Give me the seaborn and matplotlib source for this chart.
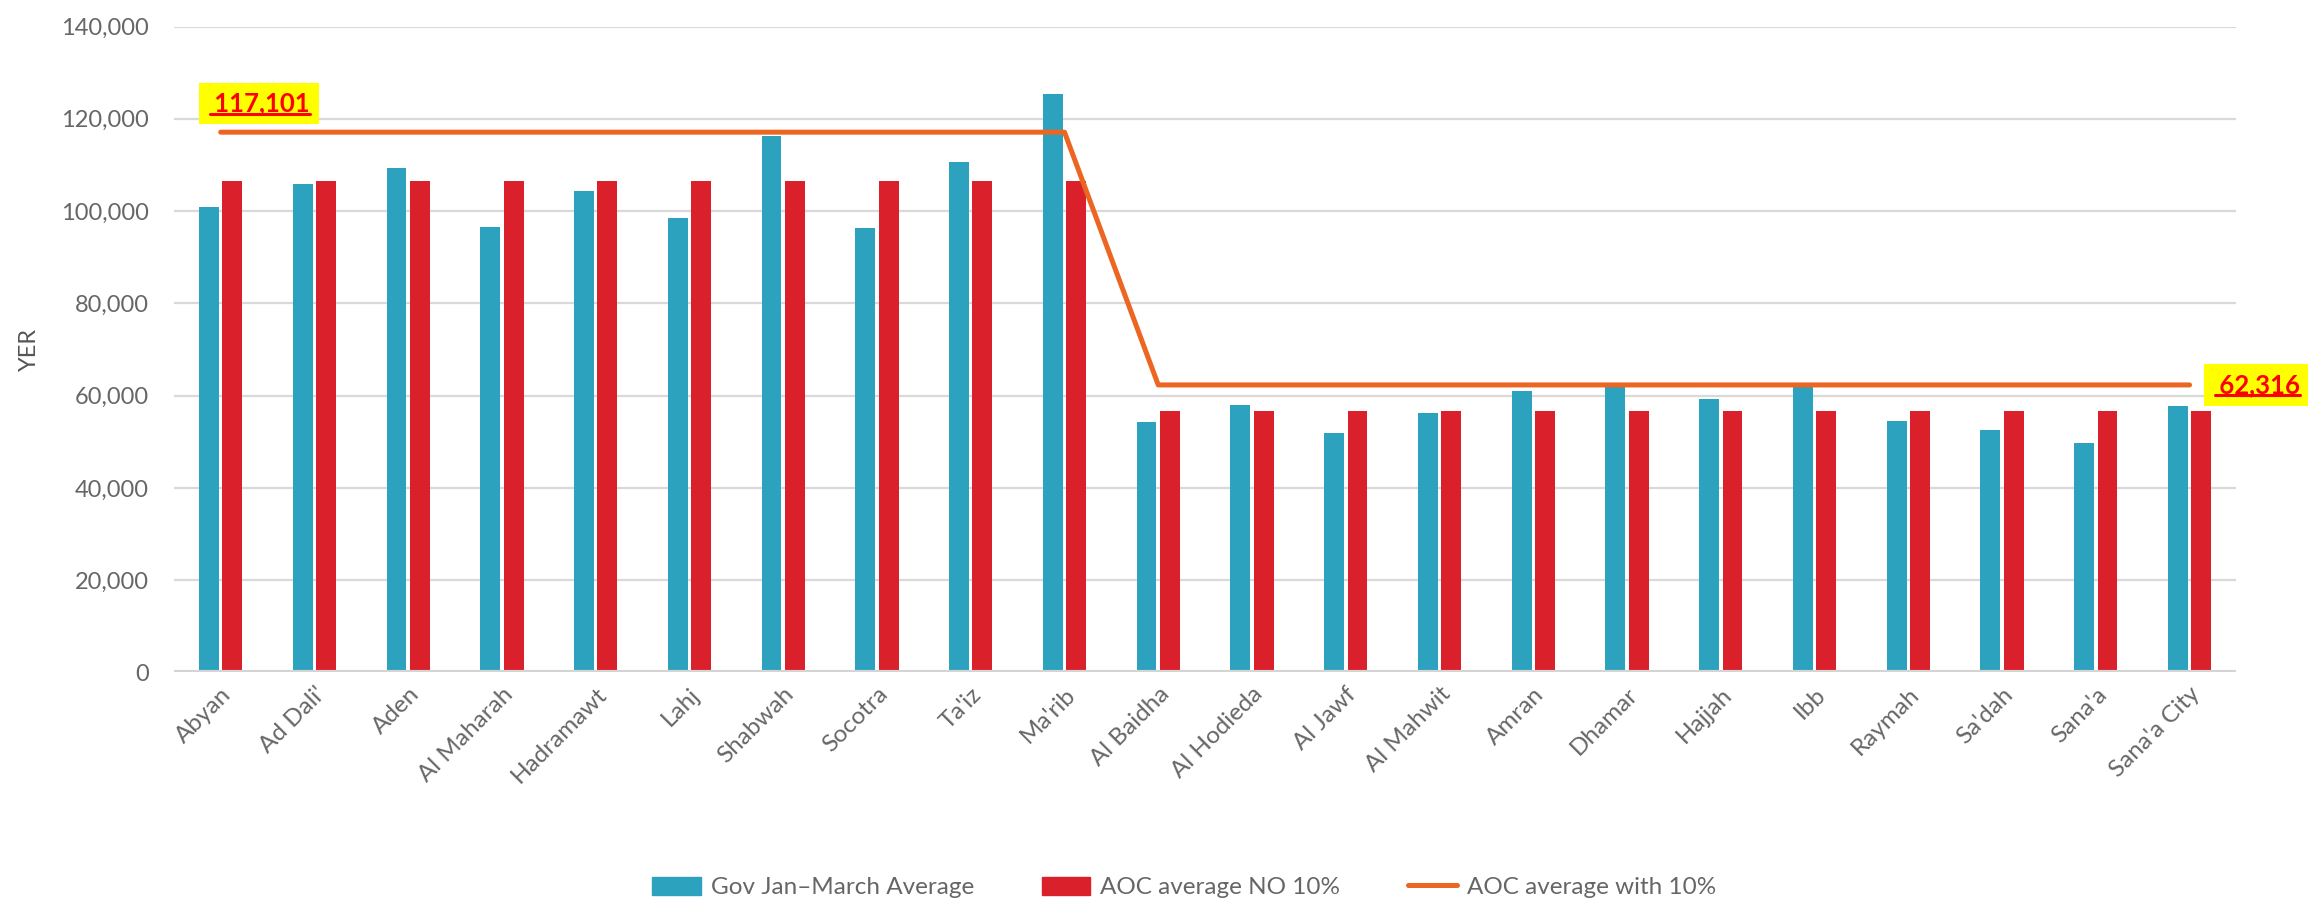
import numpy as np
import pandas as pd
import matplotlib
matplotlib.use("Agg")
import matplotlib.pyplot as plt
from matplotlib.patches import Patch
from matplotlib.lines import Line2D
import seaborn as sns

# data
regions = ["Abyan", "Ad Dali'", "Aden", "Al Maharah", "Hadramawt", "Lahj", "Shabwah",
           "Socotra", "Ta'iz", "Ma'rib", "Al Baidha", "Al Hodieda", "Al Jawf", "Al Mahwit",
           "Amran", "Dhamar", "Hajjah", "Ibb", "Raymah", "Sa'dah", "Sana'a", "Sana'a City"]
gov_avg = [100900, 105800, 109400, 96600, 104400, 98400, 116200, 96300, 110700, 125300,
           54200, 58000, 51900, 56300, 60900, 62000, 59200, 62100, 54500, 52500, 49700, 57700]
aoc_no10 = [106455] * 10 + [56651] * 12
aoc_with10 = [117101] * 10 + [62316] * 12
series_names = ["Gov Jan\u2013March Average", "AOC average NO 10%", "AOC average with 10%"]
yticks = [0, 20000, 40000, 60000, 80000, 100000, 120000, 140000]

teal = "#2CA2BF"
red = "#DA202B"
orange = "#EC6622"
grey = "#666666"

df = pd.DataFrame({
    "region": regions * 2,
    "value": gov_avg + aoc_no10,
    "series": [series_names[0]] * len(regions) + [series_names[1]] * len(regions),
})

sns.set_style("white")
plt.rcParams["font.family"] = ["Lato", "DejaVu Sans"]

fig, ax = plt.subplots(figsize=(23.08, 8.99), dpi=100)
fig.subplots_adjust(left=0.0753, right=0.969, bottom=0.252, top=0.9705)

sns.barplot(data=df, x="region", y="value", hue="series", order=regions,
            hue_order=series_names[:2], palette=[teal, red], saturation=1,
            width=0.5, gap=0.15, linewidth=0, legend=False, ax=ax)

# orange average line at category centres
xs = np.arange(len(regions))
ax.plot(xs, aoc_with10, color=orange, lw=3.6, solid_capstyle="round", zorder=4)

ax.set_xlim(-0.5, len(regions) - 0.5)
ax.set_ylim(0, 140000)
ax.set_yticks(yticks)
ax.set_yticklabels([f"{v:,}" for v in yticks])
ax.yaxis.grid(True, color="#d9d9d9", lw=1.6)
ax.set_axisbelow(True)
ax.axhline(0, color="#d4d4d4", lw=3, zorder=1)
sns.despine(ax=ax, left=True, bottom=True, top=True, right=True)

ax.tick_params(axis="y", length=0, pad=18, labelsize=17, labelcolor=grey)
ax.tick_params(axis="x", length=0, pad=8, labelsize=17.5, labelcolor=grey)
plt.setp(ax.get_xticklabels(), rotation=45, ha="right", rotation_mode="anchor")
ax.set_xlabel("")
ax.set_ylabel("YER", fontsize=17, color="#555555")
ax.yaxis.set_label_coords(-0.065, 0.5)

# value labels (yellow boxes, red underlined)
lab_style = dict(fontsize=18.5, fontweight="bold", color="#FF0000",
                 bbox=dict(boxstyle="square,pad=0.35", fc="#FFFF00", ec="none"),
                 zorder=6, annotation_clip=False)
t1 = ax.annotate(" " + f"{aoc_with10[0]:,}", xy=(0, aoc_with10[0]), xytext=(-9, 12),
                 textcoords="offset points", ha="left", va="bottom", **lab_style)
t2 = ax.annotate(" " + f"{aoc_with10[-1]:,}", xy=(len(regions) - 1, aoc_with10[-1]),
                 xytext=(17, 0), textcoords="offset points", ha="left", va="center", **lab_style)

fig.canvas.draw()
inv = fig.transFigure.inverted()
for t in (t1, t2):
    bb = t.get_window_extent()
    y = bb.y0 + 2
    (x0, yy), (x1, _) = inv.transform([(bb.x0 + 2, y), (bb.x1, y)])
    fig.add_artist(Line2D([x0, x1], [yy, yy], color="#FF0000", lw=2.2, zorder=7))

handles = [Patch(color=teal), Patch(color=red), Line2D([0], [0], color=orange, lw=3.6)]
fig.legend(handles, series_names, loc="center", bbox_to_anchor=(0.513, 0.013), ncol=3,
           frameon=False, fontsize=17.5, labelcolor=grey, handlelength=2.0,
           handleheight=0.76, handletextpad=0.4, columnspacing=2.8)

fig.savefig("out.png", dpi=100)
